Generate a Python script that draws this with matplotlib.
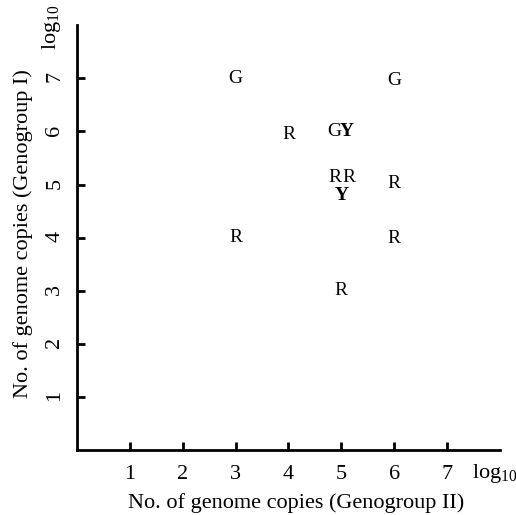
import matplotlib
matplotlib.use("Agg")
import matplotlib.pyplot as plt

plt.rcParams['font.family'] = ['Liberation Serif', 'DejaVu Serif']
plt.rcParams['mathtext.fontset'] = 'custom'
plt.rcParams['mathtext.rm'] = 'Liberation Serif'

# letters placed on the log10 grid (Genogroup II on x, Genogroup I on y)
letters = ['G', 'G', 'R', 'G', 'Y', 'R', 'R', 'Y', 'R', 'R', 'R', 'R']
gii = [3.0, 6.0, 4.0, 4.86, 5.11, 4.87, 5.14, 5.0, 6.0, 3.0, 6.0, 5.0]
gi = [7.0, 6.95, 5.95, 6.0, 6.0, 5.13, 5.13, 4.8, 5.02, 4.0, 3.98, 3.0]
bold = [False, False, False, False, True, False, False, True, False, False, False, False]

ticks = [1, 2, 3, 4, 5, 6, 7]

fig = plt.figure(figsize=(5.16, 5.15), dpi=100)
ax = fig.add_axes([0.149, 0.126, 0.820, 0.825])

for s, x, y, b in zip(letters, gii, gi, bold):
    ax.text(x, y, s, ha='center', va='center', fontsize=14,
            fontweight='bold' if b else 'normal')

ax.set_xlim(0, 8)
ax.set_ylim(0, 8)
ax.set_xticks(ticks)
ax.set_yticks(ticks)
ax.tick_params(direction='in', length=6, width=2, labelsize=16)
ax.tick_params(axis='x', pad=11)
ax.tick_params(axis='y', pad=9, labelrotation=90)
ax.spines['top'].set_visible(False)
ax.spines['right'].set_visible(False)
ax.spines['left'].set_linewidth(2)
ax.spines['bottom'].set_linewidth(2)

fig.text(296 / 516, 1 - 508 / 515, 'No. of genome copies (Genogroup II)',
         ha='center', va='baseline', fontsize=16)
fig.text(28 / 516, 1 - 234 / 515, 'No. of genome copies (Genogroup I)',
         ha='center', va='baseline', fontsize=16, rotation=90,
         rotation_mode='anchor')

fig.text(472 / 516, 1 - 478 / 515, r'$\mathrm{log}_{10}$',
         ha='left', va='baseline', fontsize=16)
fig.text(56 / 516, 1 - 50 / 515, r'$\mathrm{log}_{10}$',
         ha='left', va='baseline', fontsize=16, rotation=90,
         rotation_mode='anchor')

fig.savefig('out.png', dpi=100)
